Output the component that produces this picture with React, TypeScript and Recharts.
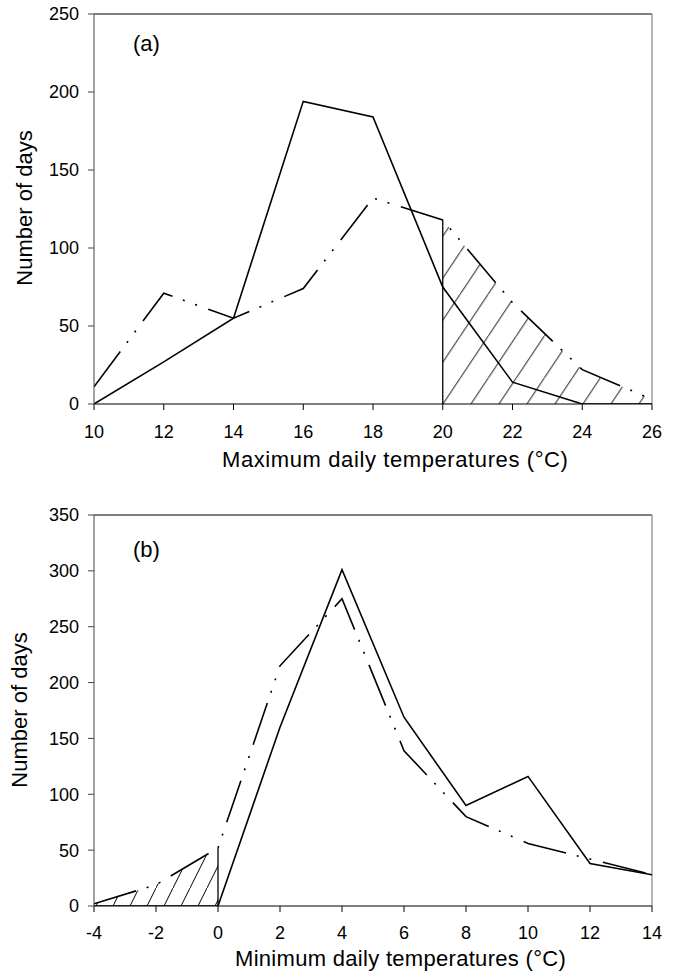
import React from "react";
import { ComposedChart, Line, Area, XAxis, YAxis, ReferenceLine } from "recharts";

// ---- Data (a): maximum daily temperatures ----
const maxTemps = [10, 12, 14, 16, 18, 20, 22, 24, 26];
const maxObserved = [0, 27, 55, 194, 184, 75, 14, 0, 0];
const maxSimulated = [11, 71, 55, 74, 132, 118, 65, 22, 3];
const maxTicksX = [10, 12, 14, 16, 18, 20, 22, 24, 26];
const maxTicksY = [0, 50, 100, 150, 200, 250];
const maxThreshold = 20;

// ---- Data (b): minimum daily temperatures ----
const minTemps = [-4, -2, 0, 2, 4, 6, 8, 10, 12, 14];
const minObserved = [0, 0, 0, 160, 301, 169, 90, 116, 38, 28];
const minSimulated = [2, 19, 52, 215, 275, 139, 80, 56, 42, 28];
const minTicksX = [-4, -2, 0, 2, 4, 6, 8, 10, 12, 14];
const minTicksY = [0, 50, 100, 150, 200, 250, 300, 350];
const minThreshold = 0;

const dataA = maxTemps.map((t, i) => ({
  t,
  obs: maxObserved[i],
  sim: maxSimulated[i],
  hatch: t >= maxThreshold ? maxSimulated[i] : null,
}));
const dataB = minTemps.map((t, i) => ({
  t,
  obs: minObserved[i],
  sim: minSimulated[i],
  hatch: t <= minThreshold ? minSimulated[i] : null,
}));

const FONT = "'Liberation Sans', Arial, sans-serif";
const tickStyle = { fontSize: 18, fill: "#000", fontFamily: FONT };
const DASH = "44 11 2 11 2 12";

export default function App() {
  return (
    <div style={{ position: "absolute", left: 0, top: 0, width: 674, height: 971, background: "#fff" }}>
      <div style={{ position: "absolute", left: 0, top: 0 }}>
        <ComposedChart width={674} height={480} data={dataA} margin={{ top: 14, right: 22, bottom: 46, left: 0 }}>
          <defs>
            <pattern id="hatchA" patternUnits="userSpaceOnUse" x={12.3} y={0} width={28} height={42}>
              <path d="M-2,45 L30,-3" stroke="#000" strokeWidth={1} fill="none" />
            </pattern>
          </defs>
          <XAxis
            dataKey="t"
            type="number"
            domain={[10, 26]}
            ticks={maxTicksX}
            height={30}
            tickSize={6}
            tickMargin={15}
            tick={tickStyle}
            stroke="#000"
            allowDataOverflow
          />
          <YAxis
            type="number"
            domain={[0, 250]}
            ticks={maxTicksY}
            width={94}
            tickSize={6}
            tickMargin={9}
            tick={tickStyle}
            stroke="#444"
            allowDataOverflow
          />
          <ReferenceLine y={250} stroke="#000" strokeWidth={1.2} />
          <ReferenceLine x={26} stroke="#888" strokeWidth={1.2} />
          <Area
            type="linear"
            dataKey="hatch"
            stroke="none"
            fill="url(#hatchA)"
            fillOpacity={1}
            isAnimationActive={false}
            dot={false}
            activeDot={false}
          />
          <ReferenceLine
            segment={[
              { x: maxThreshold, y: 0 },
              { x: maxThreshold, y: maxSimulated[maxTemps.indexOf(maxThreshold)] },
            ]}
            stroke="#000"
            strokeWidth={1.3}
          />
          <Line type="linear" dataKey="obs" stroke="#000" strokeWidth={1.6} dot={false} activeDot={false} isAnimationActive={false} />
          <Line type="linear" dataKey="sim" stroke="#000" strokeWidth={1.6} strokeDasharray={DASH} dot={false} activeDot={false} isAnimationActive={false} />
        </ComposedChart>
      </div>

      <div style={{ position: "absolute", left: 0, top: 480 }}>
        <ComposedChart width={674} height={491} data={dataB} margin={{ top: 35, right: 22, bottom: 35, left: 0 }}>
          <defs>
            <pattern id="hatchB" patternUnits="userSpaceOnUse" x={3} y={0} width={17} height={34}>
              <path d="M-2,38 L19,-4" stroke="#000" strokeWidth={1} fill="none" />
            </pattern>
          </defs>
          <XAxis
            dataKey="t"
            type="number"
            domain={[-4, 14]}
            ticks={minTicksX}
            height={30}
            tickSize={6}
            tickMargin={14}
            tick={tickStyle}
            stroke="#000"
            allowDataOverflow
          />
          <YAxis
            type="number"
            domain={[0, 350]}
            ticks={minTicksY}
            width={94}
            tickSize={6}
            tickMargin={9}
            tick={tickStyle}
            stroke="#444"
            allowDataOverflow
          />
          <ReferenceLine y={350} stroke="#000" strokeWidth={1.2} />
          <ReferenceLine x={14} stroke="#888" strokeWidth={1.2} />
          <Area
            type="linear"
            dataKey="hatch"
            stroke="none"
            fill="url(#hatchB)"
            fillOpacity={1}
            isAnimationActive={false}
            dot={false}
            activeDot={false}
          />
          <ReferenceLine
            segment={[
              { x: minThreshold, y: 0 },
              { x: minThreshold, y: minSimulated[minTemps.indexOf(minThreshold)] },
            ]}
            stroke="#000"
            strokeWidth={1.3}
          />
          <Line type="linear" dataKey="obs" stroke="#000" strokeWidth={1.6} dot={false} activeDot={false} isAnimationActive={false} />
          <Line type="linear" dataKey="sim" stroke="#000" strokeWidth={1.6} strokeDasharray={DASH} dot={false} activeDot={false} isAnimationActive={false} />
        </ComposedChart>
      </div>

      <svg
        width={674}
        height={971}
        style={{ position: "absolute", left: 0, top: 0, pointerEvents: "none" }}
        fontFamily={FONT}
        fill="#000"
      >
        <text x={133} y={51} fontSize={22}>(a)</text>
        <text x={133} y={557} fontSize={22}>(b)</text>
        <text x={32} y={208} fontSize={22} textAnchor="middle" transform="rotate(-90 32 208)">Number of days</text>
        <text x={27} y={710} fontSize={22} textAnchor="middle" transform="rotate(-90 27 710)">Number of days</text>
        <text x={222} y={467} fontSize={22} letterSpacing={0.6}>Maximum daily temperatures  (°C)</text>
        <text x={235} y={966} fontSize={22} letterSpacing={0.3}>Minimum daily temperatures (°C)</text>
      </svg>
    </div>
  );
}
